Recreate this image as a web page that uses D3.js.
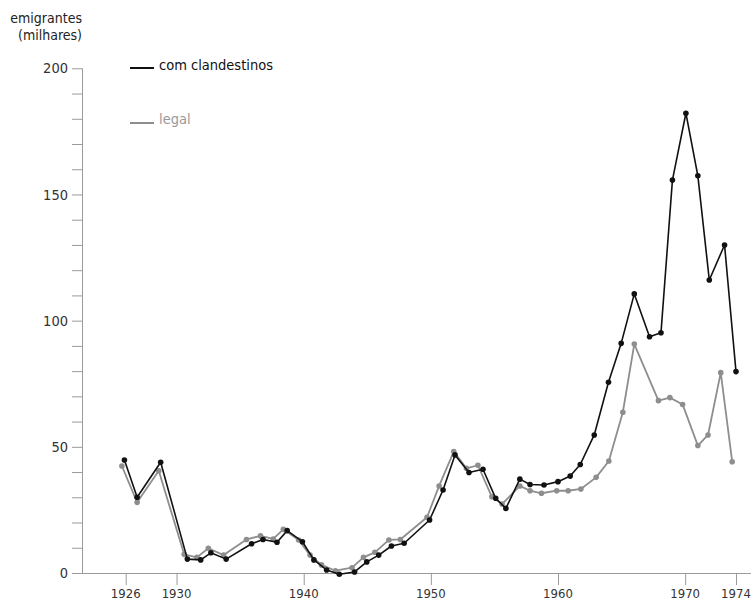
<!DOCTYPE html>
<html>
<head>
<meta charset="utf-8">
<script src="https://cdn.jsdelivr.net/npm/d3@7"></script>
<style>
  html, body { margin: 0; padding: 0; background: #fff; }
  svg { display: block; }
  text { font-family: "Liberation Sans Narrow", "DejaVu Sans Condensed", "Liberation Sans", sans-serif; }
</style>
</head>
<body>
<svg id="chart" width="751" height="603"></svg>
<script>
// ---- data ----
const comYears = [1925.9,1926.9,1928.75,1930.85,1931.9,1932.7,1933.9,1935.9,1936.8,1937.9,1938.7,1939.9,1940.8,1941.8,1942.8,1944.0,1944.96,1945.9,1946.9,1947.9,1949.9,1950.96,1951.9,1953.0,1954.1,1955.1,1955.9,1957.0,1957.8,1958.9,1960.0,1960.96,1961.75,1962.85,1963.97,1964.97,1966.0,1967.2,1968.1,1969.0,1970.06,1971.0,1971.9,1973.1,1974.0];
const comValues = [44.8,30.0,43.9,5.5,5.2,8.0,5.5,11.6,13.3,12.2,16.8,12.4,5.2,1.2,-0.5,0.4,4.4,7.1,10.7,11.8,21.0,32.9,46.8,39.8,41.1,29.6,25.6,37.2,35.1,34.9,36.2,38.4,43.0,54.7,75.6,91.0,110.6,93.6,95.2,155.7,182.2,157.4,116.1,130.0,79.8];

const legalYears = [1925.7,1926.9,1928.6,1930.6,1931.6,1932.5,1933.7,1935.5,1936.6,1937.6,1938.4,1939.6,1940.5,1941.4,1942.5,1943.8,1944.7,1945.6,1946.7,1947.6,1949.7,1950.65,1951.8,1952.8,1953.7,1954.8,1955.6,1957.0,1957.8,1958.7,1959.9,1960.8,1961.8,1963.0,1964.0,1965.1,1966.0,1967.9,1968.8,1969.8,1971.0,1971.8,1972.8,1973.7];
const legalValues = [42.4,28.0,40.5,7.4,6.2,9.8,7.1,13.3,14.7,13.5,17.3,13.1,7.1,3.2,0.9,2.1,6.2,8.2,13.1,13.3,22.1,34.5,48.1,41.5,42.7,30.2,27.3,34.5,32.6,31.6,32.6,32.6,33.3,37.9,44.4,63.7,90.7,68.3,69.5,66.8,50.5,54.7,79.4,44.1];

const xTickYears = [1926,1930,1940,1950,1960,1970,1974];
const yTickLabels = [0,50,100,150,200];
const yMinorTicks = d3.range(0, 201, 10);
const seriesNames = ["com clandestinos", "legal"];
const titleLines = ["emigrantes", "(milhares)"];

// ---- layout ----
const svg = d3.select("#chart");
const x = d3.scaleLinear().domain([1926, 1974]).range([125.7, 736]);
const y = d3.scaleLinear().domain([0, 200]).range([573, 68.3]);
const axisX0 = 82;
const axisColor = "#9a9a9a";
const colors = { com: "#111111", legal: "#8e8e8e" };

// y axis
const yAxis = d3.axisLeft(y).tickValues(yMinorTicks).tickSize(10).tickSizeOuter(0).tickFormat("");
const gy = svg.append("g").attr("transform", `translate(${axisX0},0)`).call(yAxis);
gy.select(".domain").attr("stroke", axisColor).attr("d", `M0.5,${y(200)}V${y(0)}`);
gy.selectAll(".tick line").attr("stroke", axisColor);

svg.append("g").selectAll("text").data(yTickLabels).join("text")
  .attr("x", 68).attr("y", d => y(d)).attr("dy", "0.35em")
  .attr("text-anchor", "end").attr("font-size", 14.5).attr("fill", "#333")
  .text(d => d);

// x axis
const xAxis = d3.axisBottom(x).tickValues(xTickYears).tickSize(12).tickSizeOuter(0).tickFormat("");
const gx = svg.append("g").attr("transform", `translate(0,${y(0)})`).call(xAxis);
gx.select(".domain").attr("stroke", axisColor).attr("d", `M72,0.5H751`);
gx.selectAll(".tick line").attr("stroke", axisColor);

svg.append("g").selectAll("text").data(xTickYears).join("text")
  .attr("x", d => x(d)).attr("y", 598)
  .attr("text-anchor", "middle").attr("font-size", 13).attr("fill", "#333")
  .text(d => d);

// title
svg.append("g").selectAll("text").data(titleLines).join("text")
  .attr("x", 82).attr("y", (d, i) => 23 + i * 17)
  .attr("text-anchor", "end").attr("font-size", 14).attr("fill", "#222")
  .text(d => d);

// series
const line = d3.line().x(d => x(d[0])).y(d => y(d[1]));
function drawSeries(years, values, color, width) {
  const pts = years.map((yr, i) => [yr, values[i]]);
  svg.append("path").datum(pts).attr("d", line)
    .attr("fill", "none").attr("stroke", color).attr("stroke-width", width)
    .attr("stroke-linejoin", "round");
  svg.append("g").selectAll("circle").data(pts).join("circle")
    .attr("cx", d => x(d[0])).attr("cy", d => y(d[1])).attr("r", 2.8)
    .attr("fill", color);
}
drawSeries(legalYears, legalValues, colors.legal, 1.8);
drawSeries(comYears, comValues, colors.com, 1.6);

// legend
const legend = [
  { name: seriesNames[0], color: colors.com, textColor: "#111", yLine: 68, yText: 70 },
  { name: seriesNames[1], color: colors.legal, textColor: "#999", yLine: 123, yText: 124 }
];
const lg = svg.append("g");
legend.forEach(l => {
  lg.append("line").attr("x1", 130).attr("x2", 154).attr("y1", l.yLine).attr("y2", l.yLine)
    .attr("stroke", l.color).attr("stroke-width", 2);
  lg.append("text").attr("x", 159).attr("y", l.yText).attr("font-size", 14.5)
    .attr("fill", l.textColor).text(l.name);
});
</script>
</body>
</html>
